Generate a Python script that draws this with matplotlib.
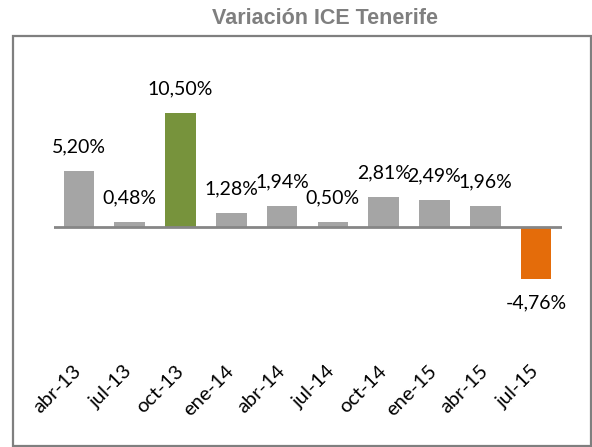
import matplotlib.pyplot as plt
from matplotlib.patches import Rectangle

periodos = ["abr-13", "jul-13", "oct-13", "ene-14", "abr-14",
            "jul-14", "oct-14", "ene-15", "abr-15", "jul-15"]
variacion = [5.20, 0.48, 10.50, 1.28, 1.94, 0.50, 2.81, 2.49, 1.96, -4.76]
etiquetas = ["5,20%", "0,48%", "10,50%", "1,28%", "1,94%",
             "0,50%", "2,81%", "2,49%", "1,96%", "-4,76%"]

W, H = 592, 447
fig = plt.figure(figsize=(W / 100, H / 100), dpi=100)

# marco del gráfico
fig.patches.append(Rectangle((13 / W, 1 - 446 / H), 578 / W, 410 / H,
                             transform=fig.transFigure, fill=False,
                             edgecolor="#7f7f7f", linewidth=1.6))
fig.text(325 / W, 1 - 18 / H, "Variación ICE Tenerife",
         family=["Liberation Sans", "DejaVu Sans"], fontweight="bold",
         fontsize=15.5, color="#7f7f7f", ha="center", va="center")

ax = fig.add_axes([53.5 / W, 1 - 345 / H, 508 / W, 248 / H])
colores = ["#a5a5a5"] * len(variacion)
colores[variacion.index(max(variacion))] = "#77933c"
colores[variacion.index(min(variacion))] = "#e46c0a"

x = range(len(periodos))
ax.bar(x, variacion, width=0.6, color=colores, zorder=2)
ax.axhline(0, color="#868686", linewidth=2, zorder=3)
ax.set_xlim(-0.5, len(periodos) - 0.5)
ax.set_ylim(-10.87, 12)

for i, (v, t) in enumerate(zip(variacion, etiquetas)):
    off = 24 if v >= 0 else -24
    ax.annotate(t, (i, v), xytext=(0, off * 0.72), textcoords="offset points",
                ha="center", va="center", fontsize=14,
                family=["Lato", "DejaVu Sans"], color="#000000")

ax.set_xticks(list(x))
ax.set_xticklabels(periodos, rotation=45, ha="right", va="center",
                   rotation_mode="anchor", fontsize=14.5,
                   family=["Lato", "DejaVu Sans"])
ax.tick_params(axis="x", length=0, pad=17)
ax.set_yticks([])
for s in ax.spines.values():
    s.set_visible(False)

fig.savefig("out.png", dpi=100)
